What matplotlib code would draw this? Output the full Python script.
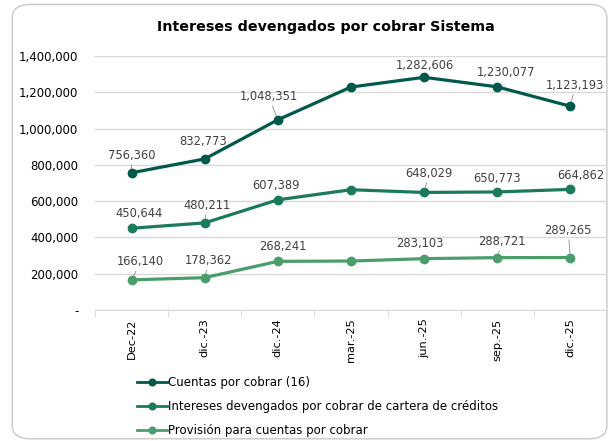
import matplotlib
matplotlib.use('Agg')
import matplotlib.pyplot as plt
from matplotlib.patches import FancyBboxPatch
from matplotlib.ticker import FuncFormatter

categories = ['Dec-22', 'dic.-23', 'dic.-24', 'mar.-25', 'jun.-25', 'sep.-25', 'dic.-25']

cuentas = [756360, 832773, 1048351, 1229000, 1282606, 1230077, 1123193]
intereses = [450644, 480211, 607389, 663000, 648029, 650773, 664862]
provision = [166140, 178362, 268241, 270000, 283103, 288721, 289265]

# which points carry a label (mar.-25 has none in the original)
show_label = [True, True, True, False, True, True, True]

series = [
    ('Cuentas por cobrar (16)', cuentas, '#00594a'),
    ('Intereses devengados por cobrar de cartera de créditos', intereses, '#1b7a5c'),
    ('Provisión para cuentas por cobrar', provision, '#4b9e6b'),
]

# label offsets in pixels (dx, dy up) and whether a leader line is drawn
offsets = [
    [(0, 17, True), (-2, 17, False), (-9, 23, True), None, (1, 12, False), (9, 14, False), (5, 21, True)],
    [(7, 15, False), (2, 17, True), (-2, 14, False), None, (5, 19, True), (0, 13, False), (11, 14, False)],
    [(9, 18, True), (4, 17, True), (5, 15, False), None, (-4, 15, False), (5, 16, True), (-2, 27, True)],
]

plt.rcParams['font.family'] = ['DejaVu Sans']

fig = plt.figure(figsize=(6.13, 4.41), dpi=100)
fig.patches.append(FancyBboxPatch((0.02, 0.005), 0.97, 0.985, boxstyle='round,pad=0,rounding_size=0.03',
                                  transform=fig.transFigure, fc='white', ec='#c8c8c8', lw=1, zorder=-5))

ax = fig.add_axes([0.155, 0.297, 0.835, 0.576])
ax.patch.set_alpha(0)
x = list(range(len(categories)))

for (name, vals, col), offs in zip(series, offsets):
    ax.plot(x, vals, '-o', color=col, lw=2.3, ms=6, label=name, zorder=3)
    for i, v in enumerate(vals):
        if not show_label[i]:
            continue
        dx, dy, leader = offs[i]
        kw = {}
        if leader:
            kw['arrowprops'] = dict(arrowstyle='-', color='#8c8c8c', lw=0.6, shrinkA=0, shrinkB=3)
        ax.annotate(f'{v:,}', (i, v), xytext=(dx, dy), textcoords='offset pixels',
                    ha='center', va='center', fontsize=8.3, color='#404040', **kw)

ax.set_xlim(-0.5, len(categories) - 0.5)
ax.set_ylim(0, 1400000)
ax.set_yticks(range(0, 1400001, 200000))
ax.yaxis.set_major_formatter(FuncFormatter(lambda v, p: '-' if v == 0 else f'{int(v):,}'))
ax.grid(axis='y', color='#d9d9d9', lw=1)
ax.set_axisbelow(True)
for s in ['top', 'right', 'left']:
    ax.spines[s].set_visible(False)
ax.spines['bottom'].set_color('#d9d9d9')
ax.tick_params(axis='y', length=0, labelsize=8.5, pad=12, colors='#000000')

ax.set_xticks(x)
ax.set_xticklabels(categories, rotation=90, fontsize=8.2)
ax.tick_params(axis='x', length=0, pad=6)
ax.set_xticks([i - 0.5 for i in range(len(categories) + 1)], minor=True)
ax.tick_params(axis='x', which='minor', length=5, color='#d9d9d9')

fig.text(0.532, 0.939, 'Intereses devengados por cobrar Sistema', ha='center', va='center',
         fontsize=10.3, fontweight='bold')

leg = fig.legend(loc='upper left', bbox_to_anchor=(0.215, 0.158), frameon=False, fontsize=8.5,
                 handlelength=2.6, handletextpad=0.1, labelspacing=0.95, borderaxespad=0,
                 markerscale=0.8)
for h in leg.legend_handles:
    h.set_linewidth(2.0)

plt.savefig('out.png', dpi=100)
plt.close()
